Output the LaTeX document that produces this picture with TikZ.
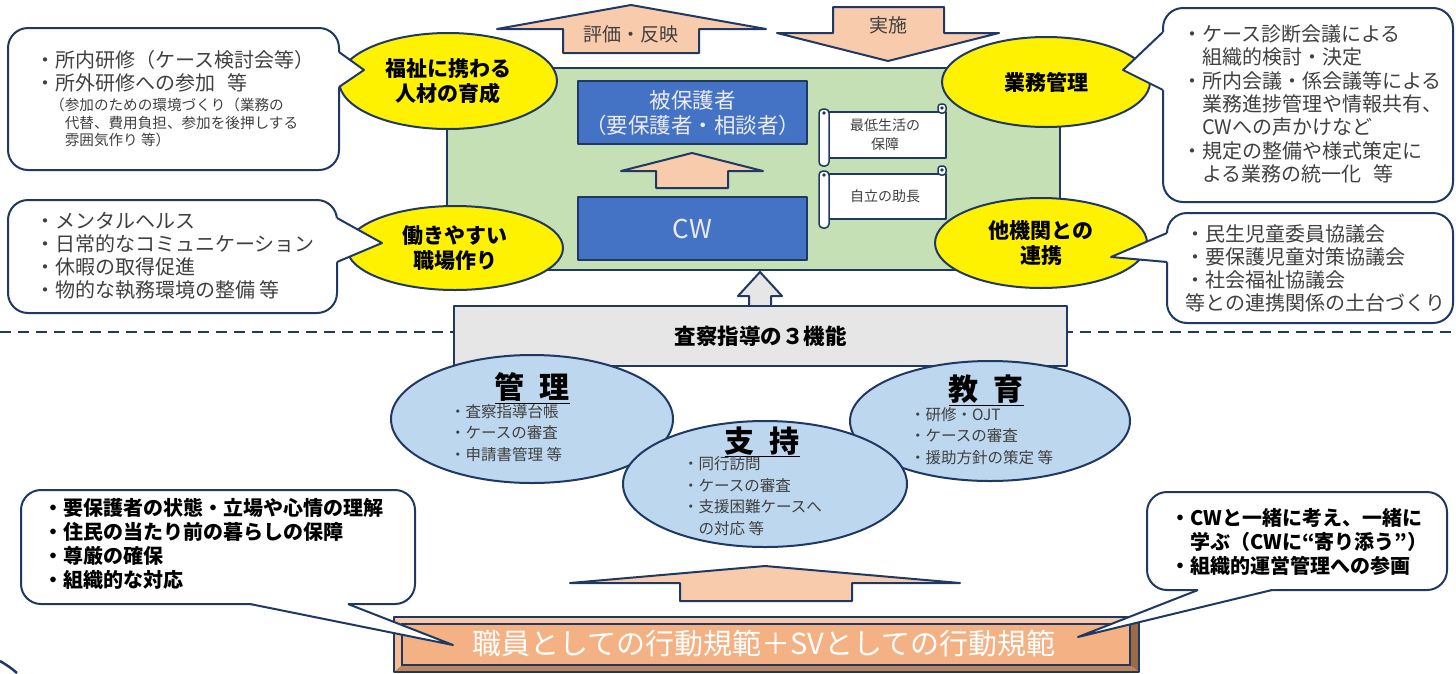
\documentclass[tikz,border=0pt]{standalone}
\usepackage{fontspec}
\setmainfont{Noto Sans CJK JP}
\usetikzlibrary{shapes.geometric}
\definecolor{navy}{HTML}{1F3864}
\definecolor{greenfill}{HTML}{C5E0B4}
\definecolor{bluebox}{HTML}{4472C4}
\definecolor{peach}{HTML}{F8CBAD}
\definecolor{lblue}{HTML}{BDD7EE}
\definecolor{grayfill}{HTML}{E7E6E6}
\definecolor{txtgray}{HTML}{404040}
\definecolor{bannerface}{HTML}{F4B183}
\definecolor{bevtop}{HTML}{F8C9A6}
\definecolor{bevleft}{HTML}{F6BD95}
\definecolor{bevbot}{HTML}{BF8659}
\definecolor{bevright}{HTML}{9C6A45}
\begin{document}
\begin{tikzpicture}[x=1pt,y=-1pt,
  ln/.style={draw=navy,line width=2pt,line join=round},
  arrowshape/.style={ln,fill=peach},
  callbox/.style={ln,fill=white,rounded corners=20pt},
  patch/.style={fill=white},
  ctext/.style={anchor=west,align=left,inner sep=0pt,text=txtgray,font=\fontsize{20}{23.5}\selectfont},
  btext/.style={anchor=west,align=left,inner sep=0pt,text=black,font=\bfseries\fontsize{20}{24}\selectfont},
  yell/.style={ellipse,ln,fill=yellow,inner sep=0pt,align=center,font=\bfseries\fontsize{21}{25}\selectfont},
  bell/.style={ellipse,ln,fill=lblue,inner sep=0pt},
  bbox/.style={ln,fill=bluebox,inner sep=0pt,align=center,text=white!92!black},
  scrollln/.style={draw=navy,line width=1.5pt,fill=white,line join=round},
  scrolltext/.style={align=center,inner sep=0pt,text=txtgray,font=\fontsize{14}{19}\selectfont},
  itemtext/.style={anchor=west,align=left,inner sep=0pt,text=txtgray,font=\fontsize{15.5}{21.5}\selectfont},
  ttl/.style={inner sep=0pt,font=\bfseries\fontsize{30}{30}\selectfont},
  arrtext/.style={inner sep=0pt,text=txtgray,font=\fontsize{19}{19}\selectfont}
]
\useasboundingbox (0,0) rectangle (1456,673);

% ---------- green area ----------
\node[ln,fill=greenfill,minimum width=613pt,minimum height=202pt,inner sep=0pt] (green) at (753.5,169) {};

% ---------- top arrows ----------
\filldraw[arrowshape] (563,53) -- (563,29) -- (497,29) -- (631,5) -- (766,29) -- (699,29) -- (699,53) -- cycle;
\node[arrtext] (hyoka) at (631,34) {評価・反映};
\filldraw[arrowshape] (833,7) -- (944,7) -- (944,33) -- (999,33) -- (888,61) -- (777,33) -- (833,33) -- cycle;
\node[arrtext] (jisshi) at (888,25) {実施};

% ---------- blue boxes ----------
\node[bbox,minimum width=229pt,minimum height=63pt,font=\fontsize{21.5}{25}\selectfont] (hiho) at (692.5,112.5) {被保護者\\（要保護者・相談者）};
\node[bbox,minimum width=229pt,minimum height=63pt,font=\fontsize{26}{26}\selectfont] (cw) at (692.5,228.5) {CW};
\filldraw[arrowshape] (656,188) -- (656,171) -- (621,171) -- (692,153) -- (763,171) -- (728,171) -- (728,188) -- cycle;

% ---------- scrolls ----------
\filldraw[scrollln] (826,112) rectangle (946,158);
\filldraw[scrollln,rounded corners=4pt] (819,109) rectangle (829,166);
\filldraw[scrollln,rounded corners=3pt] (938,104) rectangle (946,113);
\fill[navy] (824,113) circle (1.8pt);
\fill[navy] (942,108) circle (1.8pt);
\node[scrolltext] (s1) at (885,134.5) {最低生活の\\保障};

\filldraw[scrollln] (826,174) rectangle (946,219);
\filldraw[scrollln,rounded corners=4pt] (819,171) rectangle (829,228);
\filldraw[scrollln,rounded corners=3pt] (938,166) rectangle (946,175);
\fill[navy] (824,175) circle (1.8pt);
\fill[navy] (942,170) circle (1.8pt);
\node[scrolltext] (s2) at (885,196) {自立の助長};

% ---------- yellow ellipses ----------
\node[yell,minimum width=218pt,minimum height=96pt] (y1) at (448,81) {福祉に携わる\\人材の育成};
\node[yell,minimum width=216pt,minimum height=84pt] (y2) at (455,248) {働きやすい\\職場作り};
\node[yell,minimum width=208pt,minimum height=90pt] (y3) at (1046,82) {業務管理};
\node[yell,minimum width=212pt,minimum height=90pt] (y4) at (1041,243) {他機関との\\連携};

% ---------- callouts (top) ----------
\draw[callbox] (8,28) rectangle (339,170);
\fill[patch] (335,52) -- (339,52) -- (364,70) -- (339,87) -- (335,87) -- cycle;
\draw[ln] (339,52) -- (364,70) -- (339,87);
\node[ctext,font=\fontsize{20}{23}\selectfont] (c1a) at (35,71.5) {・所内研修（ケース検討会等）\\・所外研修への参加\hspace{0.6em}等};
\node[ctext,font=\fontsize{14.6}{17.5}\selectfont] (c1b) at (50,122.5) {（参加のための環境づくり（業務の\\\hspace*{1em}代替、費用負担、参加を後押しする\\\hspace*{1em}雰囲気作り 等）};

\draw[callbox] (8,200) rectangle (337,313);
\fill[patch] (333,218) -- (337,218) -- (382,243) -- (337,262) -- (333,262) -- cycle;
\draw[ln] (337,218) -- (382,243) -- (337,262);
\node[ctext,font=\fontsize{20}{23}\selectfont] (c2) at (35,255.5) {・メンタルヘルス\\・日常的なコミュニケーション\\・休暇の取得促進\\・物的な執務環境の整備 等};

\draw[callbox] (1163,8) rectangle (1453,202);
\fill[patch] (1167,32) -- (1163,32) -- (1123,70) -- (1163,90) -- (1167,90) -- cycle;
\draw[ln] (1163,32) -- (1123,70) -- (1163,90);
\node[ctext,font=\fontsize{20}{23.4}\selectfont] (c3) at (1182,104) {・ケース診断会議による\\\hspace*{1em}組織的検討・決定\\・所内会議・係会議等による\\\hspace*{1em}業務進捗管理や情報共有、\\\hspace*{1em}CWへの声かけなど\\・規定の整備や様式策定に\\\hspace*{1em}よる業務の統一化\hspace{0.6em}等};

\draw[callbox] (1167,213) rectangle (1453,323);
\fill[patch] (1171,233) -- (1167,233) -- (1111,257) -- (1167,262) -- (1171,262) -- cycle;
\draw[ln] (1167,233) -- (1111,257) -- (1167,262);
\node[ctext,font=\fontsize{20}{23}\selectfont] (c4) at (1185,268) {・民生児童委員協議会\\・要保護児童対策協議会\\・社会福祉協議会\\等との連携関係の土台づくり};

% ---------- dashed line, gray box ----------
\draw[navy,line width=2.5pt,dash pattern=on 11pt off 7pt] (0,332) -- (1456,332);
\filldraw[ln,fill=grayfill] (749,306) -- (749,296) -- (738,296) -- (760,272) -- (782,296) -- (771,296) -- (771,306);
\node[ln,fill=grayfill,minimum width=613pt,minimum height=60pt,inner sep=0pt,font=\bfseries\fontsize{21.5}{21.5}\selectfont] (three) at (760.5,336) {査察指導の３機能};

% ---------- blue ellipses ----------
\node[bell,minimum width=282pt,minimum height=128pt] (kanri) at (532,419) {};
\node[bell,minimum width=280pt,minimum height=120pt] (kyoiku) at (990,421) {};
\node[bell,minimum width=284pt,minimum height=126pt] (shiji) at (765,484) {};
\node[ttl] (kanriT) at (532,388) {\underline{管\hspace{0.5em}理}};
\node[itemtext] (kanriI) at (450,433) {・査察指導台帳\\・ケースの審査\\・申請書管理 等};
\node[ttl] (kyoikuT) at (986,390) {\underline{教\hspace{0.5em}育}};
\node[itemtext] (kyoikuI) at (910,436) {・研修・OJT\\・ケースの審査\\・援助方針の策定 等};
\node[ttl] (shijiT) at (762,442) {\underline{支\hspace{0.5em}持}};
\node[itemtext] (shijiI) at (683,496) {・同行訪問\\・ケースの審査\\・支援困難ケースへ\\\hspace*{1em}の対応 等};

% ---------- bottom arrow ----------
\filldraw[arrowshape] (680,601) -- (680,583) -- (570,583) -- (765,566) -- (960,583) -- (852,583) -- (852,601) -- cycle;

% ---------- banner ----------
\fill[bevtop] (394,617) -- (1139,617) -- (1130,624) -- (402,624) -- cycle;
\fill[bevleft] (394,617) -- (402,624) -- (402,665) -- (394,672) -- cycle;
\fill[bevbot] (394,672) -- (402,665) -- (1130,665) -- (1139,672) -- cycle;
\fill[bevright] (1139,617) -- (1130,624) -- (1130,665) -- (1139,672) -- cycle;
\fill[bannerface] (402,624) rectangle (1130,665);
\draw[navy,line width=1.2pt] (402,624) rectangle (1130,665);
\draw[ln] (394,617) rectangle (1139,672);
\node[inner sep=0pt,text=white,font=\fontsize{29}{29}\selectfont] (banner) at (764,643) {職員としての行動規範＋SVとしての行動規範};

% ---------- callouts (bottom) ----------
\draw[callbox] (21,490) rectangle (415,604);
\fill[patch] (250,600) -- (250,604) -- (453,645) -- (348,604) -- (348,600) -- cycle;
\draw[ln] (250,604) -- (453,645) -- (348,604);
\node[btext] (c5) at (43,544) {・要保護者の状態・立場や心情の理解\\・住民の当たり前の暮らしの保障\\・尊厳の確保\\・組織的な対応};

\draw[callbox] (1147,492) rectangle (1447,590);
\fill[patch] (1198,586) -- (1198,590) -- (1078,637) -- (1272,590) -- (1272,586) -- cycle;
\draw[ln] (1198,590) -- (1078,637) -- (1272,590);
\node[btext] (c6) at (1170,541.5) {・CWと一緒に考え、一緒に\\\hspace*{1em}学ぶ（CWに“寄り添う”）\\・組織的運営管理への参画};

% stray line at lower left
\draw[navy,line width=2.5pt] (0,661) to[bend left=5] (17,673);
\end{tikzpicture}
\end{document}
